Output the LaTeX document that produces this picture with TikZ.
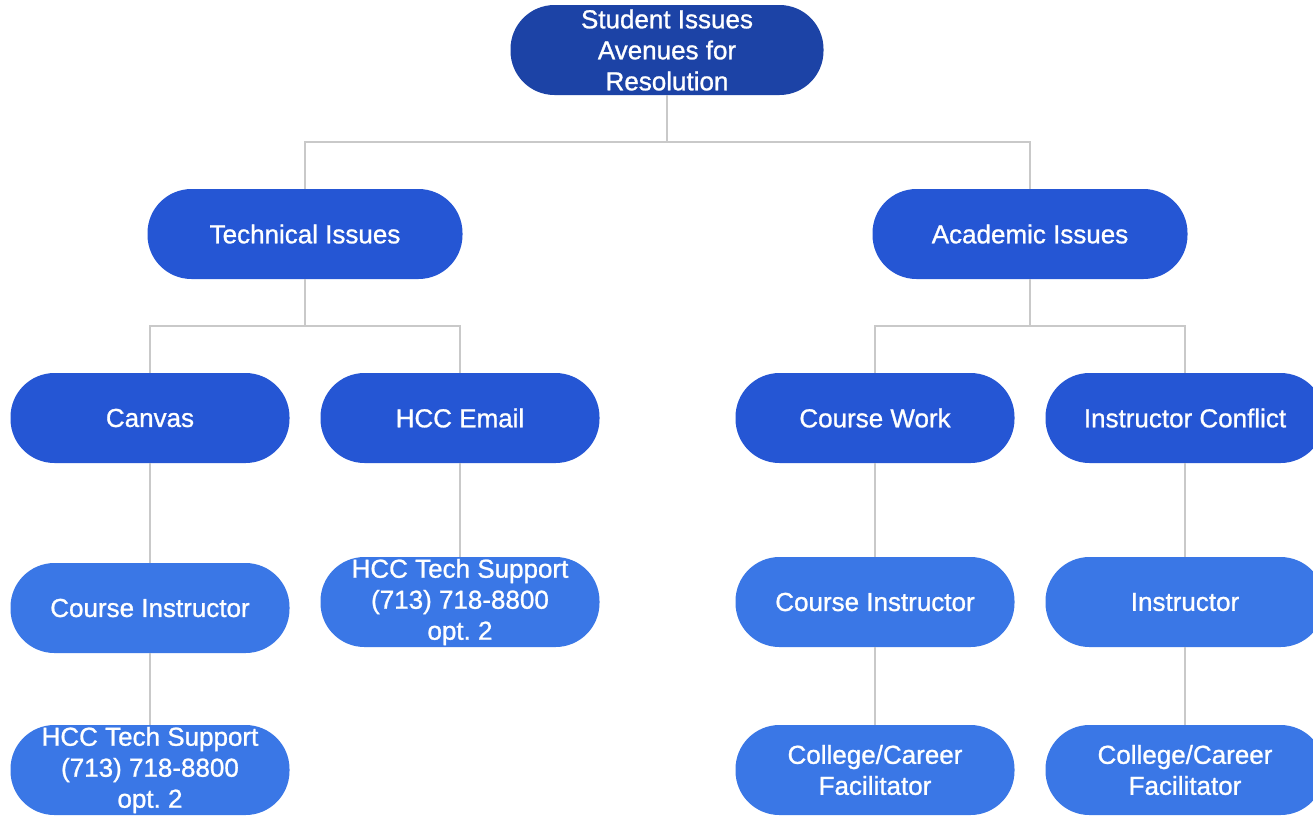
\documentclass[tikz,border=0pt]{standalone}
\usepackage{fontspec}
\setmainfont{Liberation Sans}
\newfontfamily\pillfont{Liberation Sans}[FakeBold=1]
\definecolor{navy}{HTML}{1C43A6}
\definecolor{midblue}{HTML}{2556D4}
\definecolor{lightblue}{HTML}{3A77E6}
\definecolor{linegray}{HTML}{C9C9C9}
\tikzset{
  pill/.style={rectangle, rounded corners=44pt, minimum height=90pt, minimum width=279pt,
    text=white, align=center, inner sep=0pt, font=\pillfont\frenchspacing\fontsize{26}{31}\selectfont},
  lvlA/.style={pill, fill=navy, minimum width=313pt},
  lvlB/.style={pill, fill=midblue, minimum width=315pt},
  lvlC/.style={pill, fill=midblue},
  lvlD/.style={pill, fill=lightblue},
  conn/.style={draw=linegray, line width=1.8pt}
}
\begin{document}
\begin{tikzpicture}[x=1pt,y=-1pt]
\useasboundingbox (0,0) rectangle (1313,815);
\fill[white] (0,0) rectangle (1313,815);
\clip (0,0) rectangle (1313,815);
% nodes
\node[lvlA] (root) at (667,50) {Student Issues\\Avenues for\\Resolution};
\node[lvlB] (tech) at (305,234) {Technical Issues};
\node[lvlB] (acad) at (1030,234) {Academic Issues};
\node[lvlC] (canvas) at (150,418) {Canvas};
\node[lvlC] (email) at (460,418) {HCC Email};
\node[lvlC] (work) at (875,418) {Course Work};
\node[lvlC] (conflict) at (1185,418) {Instructor Conflict};
\node[lvlD] (ci1) at (150,608) {Course Instructor};
\node[lvlD] (hts1) at (460,602) {HCC Tech Support\\(713) 718-8800\\opt. 2};
\node[lvlD] (ci2) at (875,602) {Course Instructor};
\node[lvlD] (instr) at (1185,602) {Instructor};
\node[lvlD] (hts2) at (150,770) {HCC Tech Support\\(713) 718-8800\\opt. 2};
\node[lvlD] (ccf1) at (875,770) {College/Career\\Facilitator};
\node[lvlD] (ccf2) at (1185,770) {College/Career\\Facilitator};
% connectors
\coordinate (j0) at (667,142);
\coordinate (j1) at (305,326);
\coordinate (j2) at (1030,326);
\draw[conn] (root.south) -- (j0);
\draw[conn] (j0) -| (tech.north);
\draw[conn] (j0) -| (acad.north);
\draw[conn] (tech.south) -- (j1);
\draw[conn] (j1) -| (canvas.north);
\draw[conn] (j1) -| (email.north);
\draw[conn] (acad.south) -- (j2);
\draw[conn] (j2) -| (work.north);
\draw[conn] (j2) -| (conflict.north);
\draw[conn] (canvas.south) -- (ci1.north);
\draw[conn] (ci1.south) -- (hts2.north);
\draw[conn] (email.south) -- (hts1.north);
\draw[conn] (work.south) -- (ci2.north);
\draw[conn] (ci2.south) -- (ccf1.north);
\draw[conn] (conflict.south) -- (instr.north);
\draw[conn] (instr.south) -- (ccf2.north);
\end{tikzpicture}
\end{document}
